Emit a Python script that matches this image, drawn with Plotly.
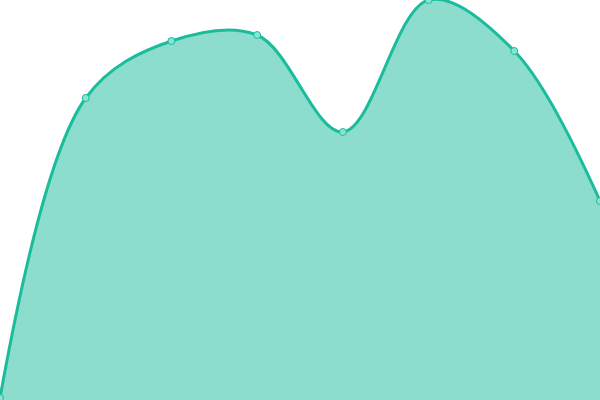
import plotly.graph_objects as go

x_vals = [0, 1, 2, 3, 4, 5, 6, 7]
y_vals = [2, 302, 359, 365, 268, 400, 349, 199]

line_color = "#1abc9c"
fill_color = "rgba(26, 188, 156, 0.5)"

fig = go.Figure()

fig.add_trace(go.Scatter(
    x=x_vals,
    y=y_vals,
    mode="lines+markers",
    line=dict(color=line_color, width=3, shape="spline", smoothing=1),
    marker=dict(size=7, color="#8be3d2", line=dict(color=line_color, width=1)),
    fill="tozeroy",
    fillcolor=fill_color,
    cliponaxis=False,
    hoverinfo="skip",
))

fig.update_layout(
    width=600,
    height=400,
    margin=dict(l=0, r=0, t=0, b=0),
    paper_bgcolor="white",
    plot_bgcolor="white",
    showlegend=False,
    xaxis=dict(range=[0, 7], visible=False, fixedrange=True),
    yaxis=dict(range=[0, 400], visible=False, fixedrange=True),
)

# drop the page's default body margin so the chart fills the window
fig.write_html(
    "out.html",
    config={"displayModeBar": False},
    post_script="document.body.style.margin='0';document.body.style.overflow='hidden';",
)
